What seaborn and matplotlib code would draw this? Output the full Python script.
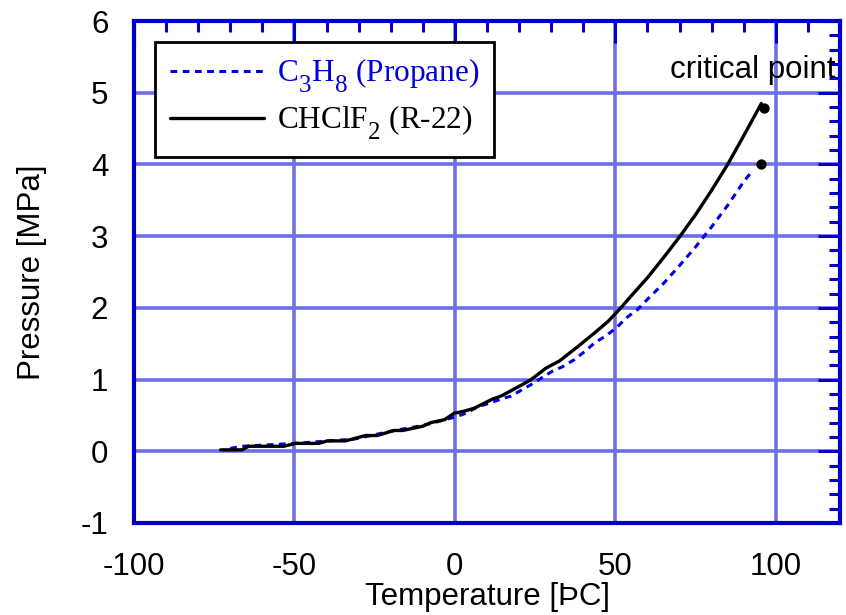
import matplotlib
matplotlib.use("Agg")
import matplotlib.pyplot as plt
from matplotlib.ticker import MultipleLocator
import matplotlib._mathtext as mtext
import seaborn as sns
import pandas as pd

# ---- data ----
t_r22 = [-73, -66.3, -64.3, -53.3, -49.7, -42.4, -39.8, -34.1, -27.8, -24.2, -19, -16.3,
         -10, -7.5, -3.3, -0.2, 2.9, 6, 11.8, 14.4, 20.6, 23.75, 28.4, 32.6, 38.3, 43.5,
         47.7, 51.3, 55, 60, 65, 70, 75, 80, 85, 90, 95.5]
p_r22 = [0.02, 0.02, 0.07, 0.07, 0.11, 0.11, 0.145, 0.145, 0.22, 0.22, 0.29, 0.29,
         0.35, 0.40, 0.44, 0.53, 0.56, 0.60, 0.73, 0.77, 0.92, 1.00, 1.16, 1.26, 1.46, 1.65,
         1.81, 1.98, 2.17, 2.42, 2.70, 2.99, 3.30, 3.64, 4.00, 4.40, 4.85]
t_c3h8 = [-70, -66.3, -50, -31.4, -23, -20, -10, 0.3, 3.4, 7.1, 10.7, 13.8, 17.5, 20.6,
          23.75, 26.9, 30.5, 33.6, 37.3, 40.4, 43.5, 46.7, 50.3, 53.4, 57, 60, 65, 70, 75,
          80, 85, 90, 92.5]
p_c3h8 = [0.04, 0.07, 0.11, 0.17, 0.25, 0.28, 0.36, 0.48, 0.53, 0.62, 0.67, 0.72, 0.77,
          0.85, 0.93, 1.02, 1.12, 1.18, 1.28, 1.39, 1.51, 1.60, 1.72, 1.86, 1.98, 2.12,
          2.34, 2.59, 2.85, 3.13, 3.43, 3.76, 3.90]
crit_t = [96.2, 95.4]
crit_p = [4.78, 4.01]

x_ticks = [-100, -50, 0, 50, 100]
y_ticks = [-1, 0, 1, 2, 3, 4, 5, 6]

df_r22 = pd.DataFrame({"T": t_r22, "P": p_r22})
df_c3h8 = pd.DataFrame({"T": t_c3h8, "P": p_c3h8})
df_crit = pd.DataFrame({"T": crit_t, "P": crit_p})

# larger, lower subscripts (Times-like chemical formulas)
try:
    mtext.SHRINK_FACTOR = 0.8
    for cls in [mtext.FontConstantsBase] + mtext.FontConstantsBase.__subclasses__():
        cls.sub1 = 0.75
        cls.sub2 = 0.9
except Exception:
    pass

sns.set_theme(style="white")
plt.rcParams["font.family"] = ["Liberation Sans", "DejaVu Sans"]
plt.rcParams["mathtext.default"] = "regular"
plt.rcParams["axes.unicode_minus"] = False
plt.rcParams["text.color"] = "black"
plt.rcParams["axes.labelcolor"] = "black"

SPINE = "#0000c8"
GRID = "#6e6ee6"
FS = 22.5

fig = plt.figure(figsize=(8.46, 6.15), dpi=100)
ax = fig.add_axes([134 / 846, 1 - 523 / 615, 706 / 846, 502 / 615])

ax.set_xlim(-100, 120)
ax.set_ylim(-1, 6)
ax.set_xticks(x_ticks)
ax.set_yticks(y_ticks)
ax.xaxis.set_minor_locator(MultipleLocator(10))
ax.yaxis.set_minor_locator(MultipleLocator(0.2))

ax.grid(True, which="major", color=GRID, linewidth=2.6, linestyle="-")
ax.set_axisbelow(True)

sns.lineplot(data=df_c3h8, x="T", y="P", ax=ax, color="#0000dd", linewidth=2.2,
             linestyle=(0, (2.2, 1.8)), estimator=None, sort=False,
             label="C$_3$H$_8$ (Propane)")
sns.lineplot(data=df_r22, x="T", y="P", ax=ax, color="black", linewidth=2.4,
             estimator=None, sort=False, label="CHClF$_2$ (R-22)")
sns.scatterplot(data=df_crit, x="T", y="P", ax=ax, color="black", s=55,
                edgecolor="black", linewidth=0, zorder=5, legend=False)

ax.text(67, 5.32, "critical point", fontsize=FS, va="center", ha="left", color="black")

for s in ax.spines.values():
    s.set_color(SPINE)
    s.set_linewidth(3)
    s.set_zorder(6)

ax.tick_params(axis="both", which="both", direction="in", top=True, right=True,
               color=SPINE, labelcolor="black", labelsize=FS)
ax.tick_params(axis="both", which="major", length=16, width=2.2)
ax.tick_params(axis="both", which="minor", length=8, width=2.2)
ax.tick_params(axis="x", which="major", pad=21)
ax.tick_params(axis="y", which="major", pad=18.5)

ax.set_xlabel("Temperature [ÞC]", fontsize=FS, labelpad=0)
ax.set_ylabel("Pressure [MPa]", fontsize=FS, labelpad=24)

leg = ax.legend(loc="upper left", bbox_to_anchor=(0.0297, 0.959), borderaxespad=0,
                frameon=True, fancybox=False, framealpha=1, edgecolor="black",
                prop={"family": "Liberation Serif", "size": FS},
                handlelength=3.0, handletextpad=0.42, borderpad=0.48, labelspacing=0.28)
leg.get_frame().set_linewidth(2)
leg.set_zorder(7)
leg.get_texts()[0].set_color("#0000dd")
leg.get_texts()[1].set_color("black")

fig.savefig("out.png", dpi=100)
